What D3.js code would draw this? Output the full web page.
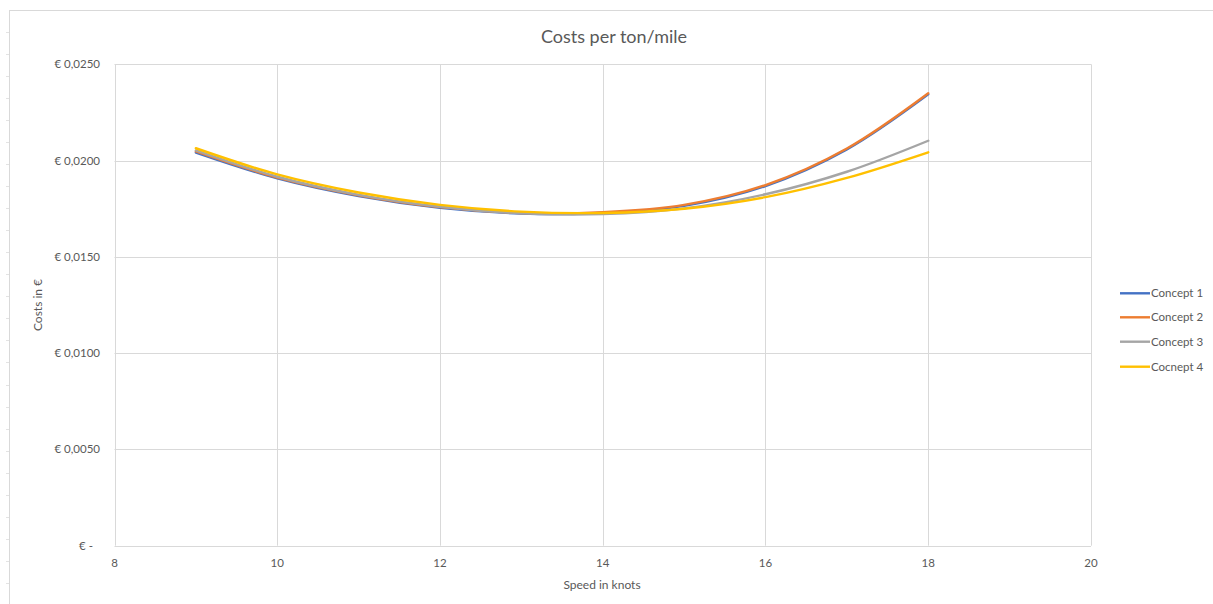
<!DOCTYPE html>
<html>
<head>
<meta charset="utf-8">
<script src="https://cdn.jsdelivr.net/npm/d3@7"></script>
<style>
  body { margin: 0; background: #fff; }
  svg { display: block; }
  text { font-family: Lato, "Open Sans", sans-serif; fill: #595959; }
</style>
</head>
<body>
<svg id="chart" width="1213" height="604"></svg>
<script>
// Speed (knots) and cost per ton/mile (€) for each concept
const speeds = [9, 10, 11, 12, 13, 14, 15, 16, 17, 18];
const concept1 = [0.02042, 0.01908, 0.01816, 0.01755, 0.01725, 0.01728, 0.01765, 0.01868, 0.02058, 0.02344];
const concept2 = [0.02048, 0.01912, 0.01820, 0.01758, 0.01728, 0.01732, 0.01770, 0.01873, 0.02063, 0.02350];
const concept3 = [0.02053, 0.01916, 0.01822, 0.01760, 0.01726, 0.01722, 0.01752, 0.01825, 0.01942, 0.02103];
const concept4 = [0.02064, 0.01928, 0.01834, 0.01770, 0.01735, 0.01728, 0.01750, 0.01810, 0.01910, 0.02043];
const seriesNames = ["Concept 1", "Concept 2", "Concept 3", "Cocnept 4"];
const seriesColors = ["#4472C4", "#ED7D31", "#A5A5A5", "#FFC000"];
const xTicks = [8, 10, 12, 14, 16, 18, 20];
const yTicks = [0, 0.005, 0.010, 0.015, 0.020, 0.025];

const series = [concept1, concept2, concept3, concept4].map((vals, i) => ({
  name: seriesNames[i],
  color: seriesColors[i],
  points: speeds.map((s, j) => ({ x: s, y: vals[j] }))
}));

const svg = d3.select("#chart");
const grid = "#D9D9D9";

// Outer chart frame
svg.append("rect")
  .attr("x", 9.5).attr("y", 10.5)
  .attr("width", 1213).attr("height", 600)
  .attr("fill", "none").attr("stroke", grid);

// Faint sheet-row marks on the left margin
const marks = d3.range(0, 26).map(k => 31.7 + k * 22.05).filter(v => v > 10 && v < 604);
svg.append("g").selectAll("line").data(marks).join("line")
  .attr("x1", 6).attr("x2", 9)
  .attr("y1", d => Math.round(d) + 0.5).attr("y2", d => Math.round(d) + 0.5)
  .attr("stroke", "#E3E3E3");

const x = d3.scaleLinear().domain([8, 20]).range([114.5, 1091]);
const y = d3.scaleLinear().domain([0, 0.025]).range([545.7, 64.3]);

// Gridlines
svg.append("g").selectAll("line").data(yTicks).join("line")
  .attr("x1", x(8)).attr("x2", x(20))
  .attr("y1", d => Math.round(y(d)) + 0.5).attr("y2", d => Math.round(y(d)) + 0.5)
  .attr("stroke", grid);
svg.append("g").selectAll("line").data(xTicks).join("line")
  .attr("y1", y(0)).attr("y2", y(0.025))
  .attr("x1", d => Math.round(x(d)) + 0.5).attr("x2", d => Math.round(x(d)) + 0.5)
  .attr("stroke", grid);

// Axis tick labels
const fmtEuro = v => v === 0 ? "€ -" : "€ " + v.toFixed(4).replace(".", ",");
svg.append("g").selectAll("text").data(yTicks).join("text")
  .attr("x", d => d === 0 ? 93 : 100)
  .attr("y", d => y(d))
  .attr("dy", "0.35em")
  .attr("text-anchor", "end")
  .attr("font-size", 11.5)
  .text(fmtEuro);

svg.append("g").selectAll("text").data(xTicks).join("text")
  .attr("x", d => x(d))
  .attr("y", 563)
  .attr("dy", "0.35em")
  .attr("text-anchor", "middle")
  .attr("font-size", 11.5)
  .text(d => d);

// Title and axis titles
svg.append("text")
  .attr("x", 614).attr("y", 37)
  .attr("dy", "0.35em")
  .attr("text-anchor", "middle")
  .attr("font-size", 18)
  .text("Costs per ton/mile");

svg.append("text")
  .attr("x", 602).attr("y", 585)
  .attr("dy", "0.35em")
  .attr("text-anchor", "middle")
  .attr("font-size", 12)
  .text("Speed in knots");

svg.append("text")
  .attr("transform", "translate(38,305) rotate(-90)")
  .attr("dy", "0.35em")
  .attr("text-anchor", "middle")
  .attr("font-size", 12)
  .text("Costs in €");

// Smoothed series lines
const line = d3.line()
  .x(d => x(d.x))
  .y(d => y(d.y))
  .curve(d3.curveCatmullRom.alpha(0.5));

svg.append("g").selectAll("path").data(series).join("path")
  .attr("d", d => line(d.points))
  .attr("fill", "none")
  .attr("stroke", d => d.color)
  .attr("stroke-width", 2.4)
  .attr("stroke-linecap", "round");

// Legend
const legendY = [293.3, 317.3, 341.7, 366.7];
const legend = svg.append("g").selectAll("g").data(series).join("g")
  .attr("transform", (d, i) => `translate(0,${legendY[i]})`);
legend.append("line")
  .attr("x1", 1120).attr("x2", 1150)
  .attr("y1", 0).attr("y2", 0)
  .attr("stroke", d => d.color)
  .attr("stroke-width", 2.4);
legend.append("text")
  .attr("x", 1151).attr("y", 0)
  .attr("dy", "0.35em")
  .attr("font-size", 11.5)
  .text(d => d.name);
</script>
</body>
</html>
